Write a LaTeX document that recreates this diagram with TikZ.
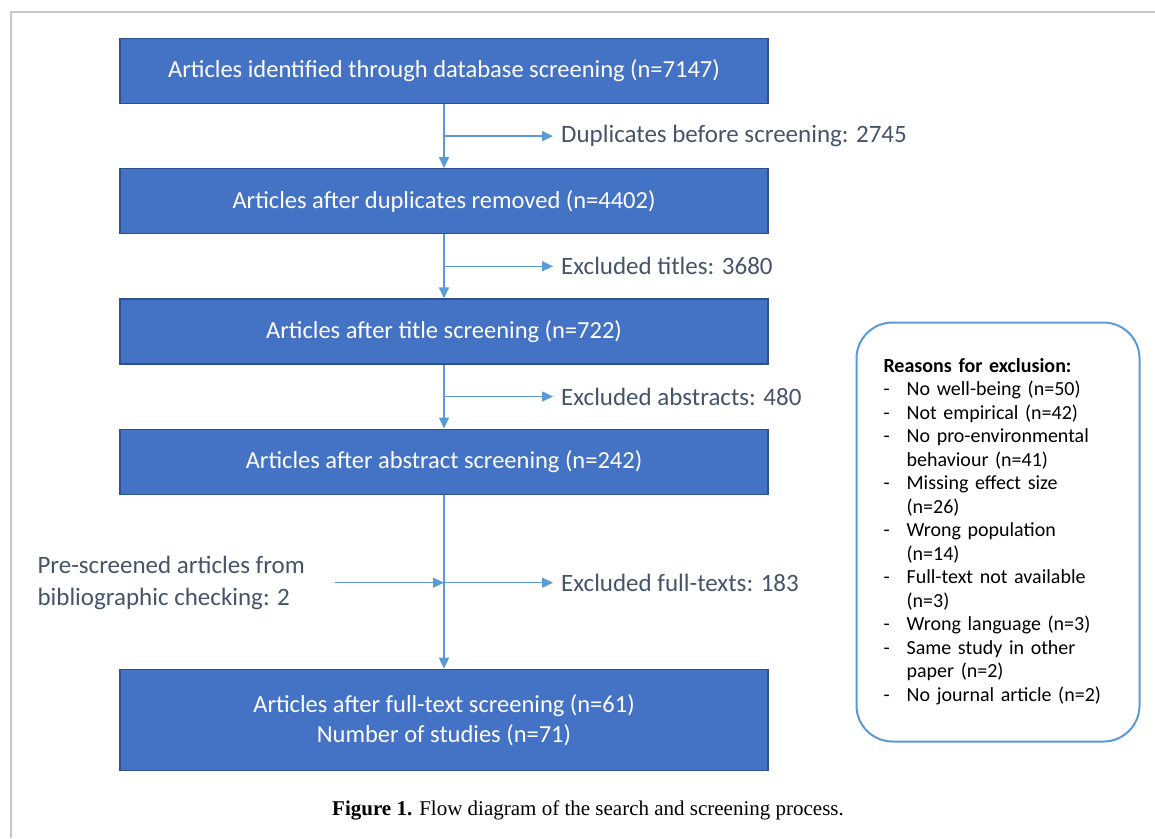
\documentclass[tikz,border=0pt]{standalone}
\usepackage{fontspec}
\setmainfont{Carlito}
\newfontfamily\capfont{Liberation Serif}
\usetikzlibrary{positioning,arrows.meta}
\definecolor{boxblue}{HTML}{4472C4}
\definecolor{boxedge}{HTML}{2F528F}
\definecolor{flowblue}{HTML}{5B9BD5}
\definecolor{sidegray}{HTML}{44546A}
\definecolor{framegray}{HTML}{C8C8C8}

\begin{document}
\begin{tikzpicture}[x=1pt, y=-1pt, node distance=64pt,
        stage/.style={rectangle, draw=boxedge, line width=1.2pt, fill=boxblue, text=white,
            minimum width=648pt, minimum height=65pt, align=center, font=\fontsize{24.5}{30}\selectfont},
        side/.style={anchor=west, text=sidegray, inner sep=8pt, align=left, font=\fontsize{25}{32}\selectfont},
        flow/.style={draw=flowblue, line width=1.5pt, -{Triangle[length=11pt,width=10pt]}},
        reasons/.style={rectangle, draw=flowblue, line width=2pt, rounded corners=36pt,
            text width=229pt, inner xsep=27pt, inner ysep=0pt, minimum height=419pt,
            align=left, font=\fontsize{20}{23.5}\selectfont}]
                \useasboundingbox (0,0) rectangle (1155,838);
                \draw[framegray, line width=1.5pt] (11,838) -- (11,12) -- (1155,12);

                \node[stage] (b1) at (444,71) {Articles identified through database screening (n=7147)};
                \node[stage, below=of b1] (b2) {Articles after duplicates removed (n=4402)};
                \node[stage, below=of b2] (b3) {Articles after title screening (n=722)};
                \node[stage, below=of b3] (b4) {Articles after abstract screening (n=242)};
                \node[stage, below=174pt of b4, minimum height=101pt] (b5) {Articles after full-text screening (n=61)\\Number of studies (n=71)};

                \coordinate[below=32pt of b1] (j1);
                \coordinate[below=32pt of b2] (j2);
                \coordinate[below=32pt of b3] (j3);
                \coordinate[below=88pt of b4] (j4);
                \coordinate[left=109pt of j4] (s4);

                \node[side, right=109pt of j1] (d1) {Duplicates before screening: 2745};
                \node[side, right=109pt of j2] (d2) {Excluded titles: 3680};
                \node[side, right=109pt of j3] (d3) {Excluded abstracts: 480};
                \node[side, right=109pt of j4] (d4) {Excluded full-texts: 183};
                \node[side, left=22pt of s4] (pre) {Pre-screened articles from\\bibliographic checking: 2};

                \node[reasons] (why) at (998,532) {\begin{tabular}{@{}l@{\hspace{17pt}}l@{}}
                    \multicolumn{2}{@{}l@{}}{\textbf{Reasons for exclusion:}}\\
                    - & No well-being (n=50)\\
                    - & Not empirical (n=42)\\
                    - & No pro-environmental\\
                      & behaviour (n=41)\\
                    - & Missing effect size\\
                      & (n=26)\\
                    - & Wrong population\\
                      & (n=14)\\
                    - & Full-text not available\\
                      & (n=3)\\
                    - & Wrong language (n=3)\\
                    - & Same study in other\\
                      & paper (n=2)\\
                    - & No journal article (n=2)
                \end{tabular}};

                \node[font=\capfont\fontsize{21}{24}\selectfont] (cap) at (588,810) {\textbf{Figure 1.} Flow diagram of the search and screening process.};

                \path[every edge/.style={flow}]
                    (b1.south) edge (b2.north)
                    (b2.south) edge (b3.north)
                    (b3.south) edge (b4.north)
                    (b4.south) edge (b5.north)
                    (j1) edge (d1.west)
                    (j2) edge (d2.west)
                    (j3) edge (d3.west)
                    (j4) edge (d4.west)
                    (s4) edge (j4)
                    ;
            \end{tikzpicture}
\end{document}
